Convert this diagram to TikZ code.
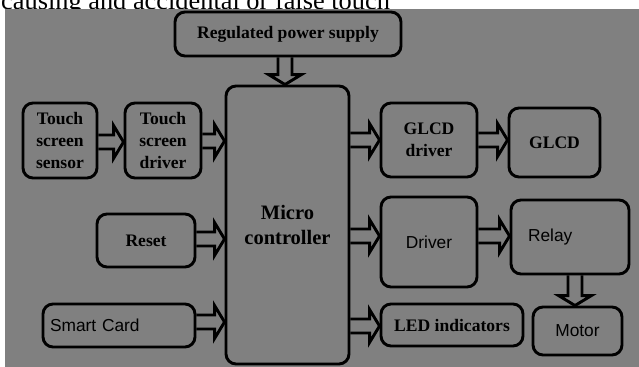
\documentclass[tikz,border=0pt]{standalone}
\usepackage{fontspec}
\setmainfont{Liberation Serif}
\setsansfont{Liberation Sans}
\usetikzlibrary{calc}

\definecolor{panel}{RGB}{128,128,128}
\newcommand\px{0.3mm}
\newcommand\sw{6pt}
\newcommand\hw{14pt}
\newcommand\hl{8.5pt}

\tikzset{
  blk/.style={draw=black, line width=2.5pt, rounded corners=3mm, fill=panel,
    align=center, inner sep=0pt, font=\fontsize{15}{18.5}\selectfont\bfseries},
  sanslbl/.style={font=\fontsize{14.8}{17}\selectfont\mdseries\sffamily},
  fat/.style={draw=black, line width=2.5pt, line join=miter},
}

% horizontal block arrow: from, to, y in px
\newcommand\harrow[3]{%
  \draw[fat] let \p1=(#1.east), \p2=(#2.west), \p3=(0,#3) in
    (\x1,\y3+\sw) -- (\x2-\hl,\y3+\sw) -- (\x2-\hl,\y3+\hw) -- (\x2,\y3)
    -- (\x2-\hl,\y3-\hw) -- (\x2-\hl,\y3-\sw) -- (\x1,\y3-\sw);}
% vertical block arrow: from, to, x in px
\newcommand\varrow[3]{%
  \draw[fat] let \p1=(#1.south), \p2=(#2.north), \p3=(#3,0) in
    (\x3+\sw,\y1) -- (\x3+\sw,\y2+\hl) -- (\x3+\hw,\y2+\hl) -- (\x3,\y2)
    -- (\x3-\hw,\y2+\hl) -- (\x3-\sw,\y2+\hl) -- (\x3-\sw,\y1);}

\begin{document}
\begin{tikzpicture}[x=\px, y=-\px]
\useasboundingbox (0,0) rectangle (639,367);
\node[anchor=base west, inner sep=0pt, font=\fontsize{22.5}{26}\selectfont] (caption) at (1,10) {causing and accidental or false touch};
\fill[panel] (5,9) rectangle (639,367);

% blocks
\node[blk, minimum width=226*\px, minimum height=44*\px] (rps) at (288,34) {Regulated power supply};
\node[blk, minimum width=74*\px, minimum height=75*\px] (sensor) at (60,140.5) {Touch\\screen\\sensor};
\node[blk, minimum width=76*\px, minimum height=75*\px] (tsdrv) at (163,140.5) {Touch\\screen\\driver};
\node[blk, minimum width=123*\px, minimum height=278*\px, font=\fontsize{17.5}{21}\selectfont\bfseries] (micro) at (287.5,225) {Micro\\controller};
\node[blk, minimum width=98*\px, minimum height=53*\px] (reset) at (146,240.5) {Reset};
\node[blk, sanslbl, minimum width=152*\px, minimum height=43*\px, text width=138*\px, inner xsep=7*\px, align=left] (smart) at (119,325.5) {Smart Card};
\node[blk, minimum width=96*\px, minimum height=74*\px] (glcddrv) at (429,140) {GLCD\\driver};
\node[blk, minimum width=91*\px, minimum height=69*\px] (glcd) at (554.5,142.5) {GLCD};
\node[blk, sanslbl, minimum width=96*\px, minimum height=90*\px] (driver) at (429,242) {Driver};
\node[blk, sanslbl, minimum width=118*\px, minimum height=74*\px, text width=84*\px, inner xsep=17*\px, align=left] (relay) at (570,237) {Relay};
\node[blk, minimum width=142*\px, minimum height=42*\px] (led) at (452,325) {LED indicators};
\node[blk, sanslbl, minimum width=89*\px, minimum height=48*\px] (motor) at (577.5,331) {Motor};

% arrows
\varrow{rps}{micro}{285}
\harrow{sensor}{tsdrv}{142}
\harrow{tsdrv}{micro}{141}
\harrow{reset}{micro}{239}
\harrow{smart}{micro}{322}
\harrow{micro}{glcddrv}{140}
\harrow{glcddrv}{glcd}{140}
\harrow{micro}{driver}{236}
\harrow{driver}{relay}{236}
\harrow{micro}{led}{326}
\varrow{relay}{motor}{575}
\end{tikzpicture}
\end{document}
